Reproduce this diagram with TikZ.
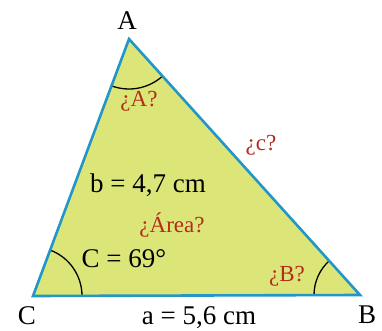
\documentclass[tikz,border=0pt]{standalone}
\usepackage{fontspec}
\setmainfont{Liberation Serif}
\usetikzlibrary{angles}
\definecolor{trifill}{RGB}{220,230,120}
\definecolor{triedge}{RGB}{34,150,200}
\definecolor{qred}{RGB}{178,45,28}
\begin{document}
\begin{tikzpicture}[x=1pt,y=-1pt,
  blk/.style={font=\fontsize{27}{31}\selectfont, text=black, inner sep=0pt},
  red/.style={font=\fontsize{23}{27}\selectfont, text=qred, inner sep=0pt},
  angarc/.style={draw=black, line width=1.3pt, angle radius=47pt}]
\useasboundingbox (0,0) rectangle (382,331);
\coordinate (A) at (129,39);
\coordinate (C) at (33,296);
\coordinate (B) at (360,295);
\fill[trifill] (A) -- (B) -- (C) -- cycle;
\pic[angarc, angle radius=50pt] {angle = C--A--B};
\pic[angarc, angle radius=49pt] {angle = B--C--A};
\pic[angarc, angle radius=46pt] {angle = A--B--C};
\draw[triedge, line width=2.6pt, line join=miter] (A) -- (B) -- (C) -- cycle;
\node[blk] (lA) at (127,21) {A};
\node[blk] (lC) at (27,316) {C};
\node[blk] (lB) at (367,315) {B};
\node[blk] (la) at (199,318) {a = 5,6 cm};
\node[blk] (lb) at (148,185) {b = 4,7 cm};
\node[blk] (lCang) at (124,259) {C = 69°};
\node[red] (qA) at (139,101) {¿A?};
\node[red] (qc) at (261,145) {¿c?};
\node[red] (qarea) at (172,225) {¿Área?};
\node[red] (qB) at (287,276) {¿B?};
\end{tikzpicture}
\end{document}
